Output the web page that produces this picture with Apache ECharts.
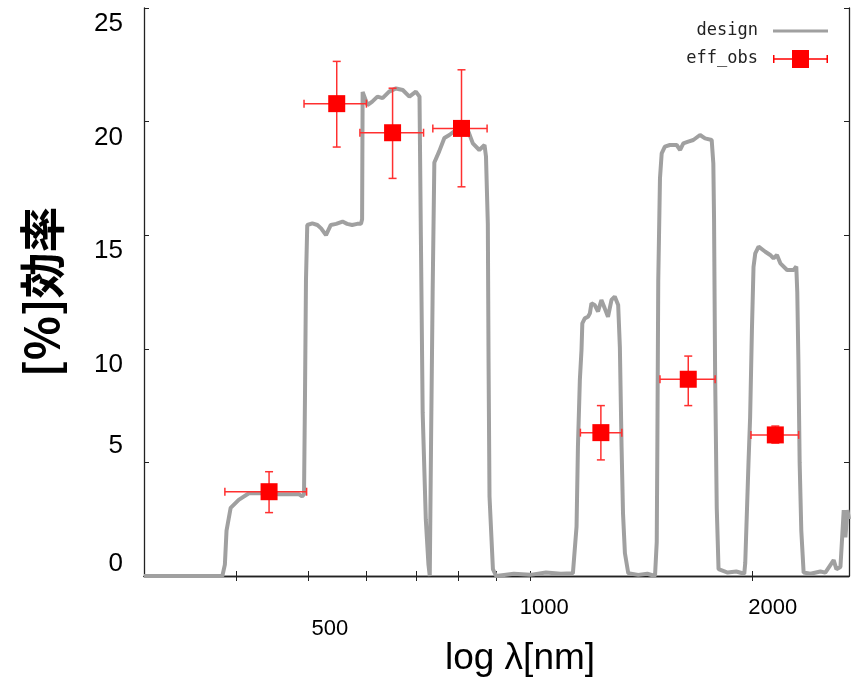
<!DOCTYPE html>
<html lang="ja">
<head>
    <meta charset="UTF-8">
    <title>効率 vs 波長</title>
    <style type="text/css">
        *{ margin: 0; padding: 0; }
        #main{ width: 853px; height: 680px; background: #fff; }
    </style>
</head>
<body>
    <div id="main"></div>
    <script src="https://cdn.jsdelivr.net/npm/echarts@6/dist/echarts.min.js"></script>
    <script type="text/javascript">
        // design curve: wavelength [nm] / efficiency [%]
        var designWl = [300,383,386,388,393,403,416,429,457,486,491,494,495.5,497,499,507,515,521,529,537,546,557,565,574,583,590,592,593,596,602,611,621,631,644,658,672,686,700,708,709,711,715,722,728,731,734,737.6,741.5,753,765,777,793,810,823,836,853,867,871,876,878,880.6,890,899,950,1000,1050,1100,1142,1155,1160,1167,1173,1176,1185,1197,1204,1210,1222,1235,1248,1261,1274,1288,1301,1315,1322,1329,1335,1343,1357,1400,1440,1475,1483,1486,1490,1498,1506,1521,1545,1578,1595,1611,1636,1662,1697,1724,1760,1769,1773,1779,1788,1798,1850,1900,1948,1954,1974,1984,1995,2005,2016,2037,2047,2080,2112,2134,2157,2180,2226,2272,2291,2298,2306,2315,2327,2344,2394,2470,2508,2574,2596,2629,2656,2670,2687,2700];
        var designEff = [0,0,0.5,2.0,3.0,3.35,3.64,3.65,3.6,3.6,3.5,3.6,8,13,15.45,15.52,15.45,15.3,15.0,15.45,15.5,15.6,15.5,15.45,15.5,15.5,15.7,21.3,21.3,20.73,20.88,21.1,21.03,21.32,21.46,21.39,21.1,21.32,21.1,19.0,15.0,7.2,2.5,0.5,0,6,12.5,18.2,18.7,19.28,19.41,19.63,19.78,19.63,19.04,18.75,18.97,18.46,15.5,9.4,3.5,0.3,0,0.1,0.05,0.15,0.1,0.12,2.17,5.67,8.63,9.95,11.12,11.34,11.41,11.56,12.0,11.93,11.64,12.15,11.78,11.41,12.15,12.3,11.93,10.06,5.69,2.76,1.0,0.12,0.05,0.1,0,1.5,6,13,17.5,18.6,18.9,18.97,18.97,18.75,19.04,19.12,19.19,19.41,19.26,19.19,18.16,15.7,8.8,3.0,0.3,0.15,0.2,0.1,0.57,5.0,7.0,10.8,13.6,14.2,14.5,14.5,14.27,14.13,13.98,14.13,13.76,13.47,13.47,13.62,12.5,9.5,5.0,2.0,0.15,0.1,0.2,0.15,0.7,0.3,0.4,2.9,1.7,2.9,2.5];

        // observed efficiency with error bars
        var obsWl    = [443, 547, 651, 807, 1246, 1636, 2146];
        var obsWlLo  = [386, 494, 588, 738, 1169, 1498, 1989];
        var obsWlHi  = [498, 600, 717, 874, 1330, 1779, 2308];
        var obsEff   = [3.71, 20.79, 19.51, 19.70, 6.31, 8.66, 6.21];
        var obsEffLo = [2.79, 18.88, 17.50, 17.13, 5.11, 7.50, 5.85];
        var obsEffHi = [4.59, 22.65, 21.47, 22.28, 7.50, 9.68, 6.60];

        // axis ticks
        var xTickWl = [400, 500, 600, 700, 800, 900, 1000, 2000];
        var xLabelWl = [500, 1000, 2000];

        var lg = function (v) { return Math.log(v) / Math.LN10; };

        var myChart = echarts.init(document.getElementById('main'));

        var designData = designWl.map(function (w, i) { return [lg(w), designEff[i]]; });
        var obsData = obsWl.map(function (w, i) { return [lg(w), obsEff[i]]; });
        var errData = obsWl.map(function (w, i) {
            return [lg(w), obsEff[i], lg(obsWlLo[i]), lg(obsWlHi[i]), obsEffLo[i], obsEffHi[i]];
        });

        // legend icons (55 x 18 box)
        var lineIcon = 'path://M0,7.5L55,7.5L55,10.5L0,10.5Z M0,0L55,0L55,0Z M0,18L55,18L55,18Z';
        var errIcon = 'path://M0,8.25L55,8.25L55,9.75L0,9.75Z M0,5L1.5,5L1.5,13L0,13Z M53.5,5L55,5L55,13L53.5,13Z M19,0L36,0L36,18L19,18Z';

        // per-label offsets (labels were nudged in the original)
        var xRich = {
            a500: { fontSize: 22, fontFamily: 'Liberation Sans', color: '#000', padding: [21, 0, 0, 44] },
            a1000: { fontSize: 22, fontFamily: 'Liberation Sans', color: '#000', padding: [0, 0, 0, 28] },
            a2000: { fontSize: 22, fontFamily: 'Liberation Sans', color: '#000', padding: [0, 0, 0, 40] }
        };
        var yRich = {
            dn: { fontSize: 26, fontFamily: 'Liberation Sans', color: '#000', padding: [32, 0, 0, 0] },
            up5: { fontSize: 26, fontFamily: 'Liberation Sans', color: '#000', padding: [0, 0, 34, 0] },
            up0: { fontSize: 26, fontFamily: 'Liberation Sans', color: '#000', padding: [0, 0, 24, 0] }
        };

        var xMin = lg(300), xMax = lg(2700);
        var tickVals = xTickWl.map(lg);

        var option = {
            animation: false,
            grid: { left: 144, top: 8, width: 705, height: 568, outerBoundsMode: 'none' },
            legend: {
                orient: 'vertical',
                right: 20,
                top: 17,
                align: 'right',
                itemWidth: 55,
                itemHeight: 18,
                itemGap: 10,
                textStyle: { fontFamily: 'DejaVu Sans Mono', fontSize: 17, color: '#222', padding: [0, 10, 0, 0] },
                data: [
                    { name: 'design', icon: lineIcon },
                    { name: 'eff_obs', icon: errIcon }
                ]
            },
            xAxis: [{
                type: 'value',
                min: xMin,
                max: xMax,
                name: 'log λ[nm]',
                nameLocation: 'middle',
                nameGap: 64,
                nameMoveOverlap: false,
                nameTextStyle: { fontFamily: 'Liberation Sans', fontSize: 37, color: '#000', padding: [0, 0, 0, 47] },
                axisLine: { show: true, lineStyle: { color: '#222', width: 1.3 } },
                axisTick: { show: true, inside: true, length: 5, customValues: tickVals, lineStyle: { color: '#222' } },
                axisLabel: {
                    margin: 21,
                    customValues: xLabelWl.map(lg),
                    formatter: function (v) {
                        var w = Math.round(Math.pow(10, v));
                        return '{a' + w + '|' + w + '}';
                    },
                    rich: xRich
                },
                splitLine: { show: false }
            }, {
                type: 'value',
                position: 'top',
                min: xMin,
                max: xMax,
                axisLine: { show: true, lineStyle: { color: '#222', width: 1.3 } },
                axisTick: { show: true, inside: true, length: 5, customValues: tickVals, lineStyle: { color: '#222' } },
                axisLabel: { show: false },
                splitLine: { show: false }
            }],
            yAxis: [{
                type: 'value',
                min: 0,
                max: 25,
                interval: 5,
                name: '[%]効率',
                nameLocation: 'middle',
                nameRotate: 90,
                nameGap: 79,
                nameMoveOverlap: false,
                nameTextStyle: { fontFamily: 'Noto Sans CJK JP', fontWeight: 'bold', fontSize: 46, color: '#000' },
                axisLine: { show: true, lineStyle: { color: '#222', width: 1.3 } },
                axisTick: { show: true, inside: true, length: 5, lineStyle: { color: '#222' } },
                axisLabel: {
                    margin: 21,
                    formatter: function (v) {
                        if (v === 5) return '{up5|5}';
                        if (v === 0) return '{up0|0}';
                        return '{dn|' + v + '}';
                    },
                    rich: yRich
                },
                splitLine: { show: false }
            }, {
                type: 'value',
                position: 'right',
                min: 0,
                max: 25,
                interval: 5,
                axisLine: { show: true, lineStyle: { color: '#222', width: 1.3 } },
                axisTick: { show: true, inside: true, length: 5, lineStyle: { color: '#222' } },
                axisLabel: { show: false },
                splitLine: { show: false }
            }],
            series: [{
                name: 'design',
                type: 'line',
                data: designData,
                symbol: 'none',
                lineStyle: { color: '#a0a0a0', width: 4 },
                itemStyle: { color: '#a0a0a0' },
                z: 2
            }, {
                name: 'errbar',
                type: 'custom',
                data: errData,
                z: 3,
                renderItem: function (params, api) {
                    var c = api.coord([api.value(0), api.value(1)]);
                    var xl = api.coord([api.value(2), api.value(1)]);
                    var xh = api.coord([api.value(3), api.value(1)]);
                    var yl = api.coord([api.value(0), api.value(4)]);
                    var yh = api.coord([api.value(0), api.value(5)]);
                    var st = { stroke: '#ff3030', lineWidth: 1.5 };
                    var cap = 4;
                    return {
                        type: 'group',
                        children: [
                            { type: 'line', shape: { x1: xl[0], y1: c[1], x2: xh[0], y2: c[1] }, style: st },
                            { type: 'line', shape: { x1: xl[0], y1: c[1] - cap, x2: xl[0], y2: c[1] + cap }, style: st },
                            { type: 'line', shape: { x1: xh[0], y1: c[1] - cap, x2: xh[0], y2: c[1] + cap }, style: st },
                            { type: 'line', shape: { x1: c[0], y1: yl[1], x2: c[0], y2: yh[1] }, style: st },
                            { type: 'line', shape: { x1: c[0] - cap, y1: yl[1], x2: c[0] + cap, y2: yl[1] }, style: st },
                            { type: 'line', shape: { x1: c[0] - cap, y1: yh[1], x2: c[0] + cap, y2: yh[1] }, style: st }
                        ]
                    };
                }
            }, {
                name: 'eff_obs',
                type: 'scatter',
                data: obsData,
                symbol: 'rect',
                symbolSize: 17,
                itemStyle: { color: '#ff0000', opacity: 1 },
                z: 4
            }]
        };

        myChart.setOption(option);
    </script>
</body>
</html>
